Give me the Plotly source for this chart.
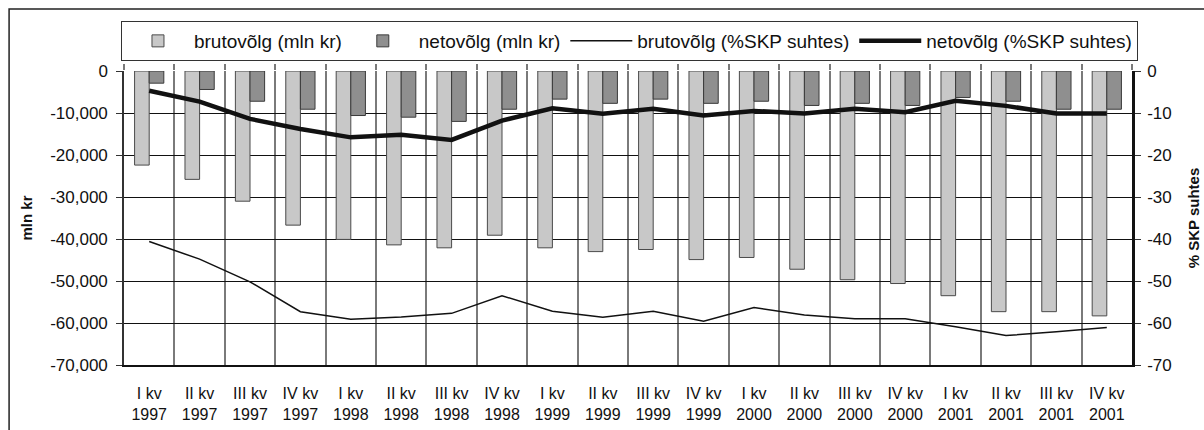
import plotly.graph_objects as go

# quarters and years for the category axis
quarters = ["I kv", "II kv", "III kv", "IV kv"]
years = ["1997", "1998", "1999", "2000", "2001"]
categories = [f"{q}<br>{y}" for y in years for q in quarters]

# gross and net debt, mln kr (bars, left axis)
gross_mln = [-22400, -25800, -31000, -36700, -40100, -41400, -42100, -39100, -42100, -43000,
             -42500, -44900, -44400, -47200, -49700, -50600, -53500, -57300, -57300, -58300]
net_mln = [-2900, -4400, -7200, -9100, -10600, -11000, -12000, -9100, -6700, -7700,
           -6700, -7700, -7200, -8200, -7700, -8200, -6300, -7200, -9100, -9100]

# gross and net debt, % of GDP (lines, right axis)
gross_pct = [-40.6, -44.8, -50.2, -57.3, -59.1, -58.6, -57.7, -53.5, -57.2, -58.6,
             -57.2, -59.6, -56.3, -58.1, -59.0, -59.0, -60.9, -63.0, -62.1, -61.1]
net_pct = [-4.7, -7.3, -11.4, -13.8, -15.8, -15.2, -16.4, -11.8, -8.9, -10.2,
           -9.0, -10.6, -9.5, -10.1, -9.0, -9.8, -7.1, -8.3, -10.1, -10.1]

# axis ticks
left_tick_vals = [0, -10000, -20000, -30000, -40000, -50000, -60000, -70000]
left_tick_text = ["0", "-10,000", "-20,000", "-30,000", "-40,000", "-50,000", "-60,000", "-70,000"]
right_tick_vals = [0, -10, -20, -30, -40, -50, -60, -70]
right_tick_text = ["0", "-10", "-20", "-30", "-40", "-50", "-60", "-70"]

FONT = "Liberation Sans, Arial, sans-serif"

fig = go.Figure()
fig.add_trace(go.Bar(x=categories, y=gross_mln, name="brutovõlg (mln kr)",
                     marker=dict(color="#C8C8C8", line=dict(color="#4A4A4A", width=1))))
fig.add_trace(go.Bar(x=categories, y=net_mln, name="netovõlg (mln kr)",
                     marker=dict(color="#8F8F8F", line=dict(color="#3A3A3A", width=1))))
fig.add_trace(go.Scatter(x=categories, y=gross_pct, name="brutovõlg (%SKP suhtes)",
                         mode="lines", line=dict(color="#111111", width=1.5),
                         xaxis="x2", yaxis="y2"))
fig.add_trace(go.Scatter(x=categories, y=net_pct, name="netovõlg (%SKP suhtes)",
                         mode="lines", line=dict(color="#111111", width=4.5),
                         xaxis="x2", yaxis="y2"))

fig.update_layout(
    width=1204, height=430,
    margin=dict(l=124, r=72, t=71, b=65),
    paper_bgcolor="white", plot_bgcolor="white",
    font=dict(family=FONT, color="#111111", size=16),
    barmode="group", bargap=0.42, bargroupgap=0,
    showlegend=True,
    legend=dict(orientation="h", x=-0.003, xanchor="left", y=1.17, yanchor="top",
                bordercolor="#333333", borderwidth=1, bgcolor="white",
                font=dict(size=19), itemwidth=62, tracegroupgap=0),
    xaxis=dict(type="category", range=[-0.5, 19.5], tickson="boundaries",
               showgrid=True, gridcolor="#7A7A7A", gridwidth=1.5,
               showline=True, linecolor="#111111", linewidth=2, automargin=False,
               ticks="", tickfont=dict(size=16), ticklabelstandoff=13, fixedrange=True),
    xaxis2=dict(type="category", range=[-0.5, 19.5], overlaying="x", side="top",
                anchor="y2", tickson="boundaries", ticks="outside", ticklen=6,
                tickcolor="#7A7A7A", tickwidth=1.5, showticklabels=False,
                showgrid=False, showline=False, automargin=False),
    yaxis=dict(range=[-70000, 0], tickvals=left_tick_vals, ticktext=left_tick_text,
               showgrid=True, gridcolor="#111111", gridwidth=1, zeroline=False,
               showline=True, linecolor="#333333", linewidth=1.5, automargin=False,
               ticks="outside", ticklen=6, tickcolor="#333333",
               tickfont=dict(size=17), ticklabelstandoff=5,
               title=dict(text="<b>mln kr</b>", font=dict(size=15), standoff=14)),
    yaxis2=dict(range=[-70, 0], overlaying="y", side="right",
                tickvals=right_tick_vals, ticktext=right_tick_text,
                showgrid=False, zeroline=False, automargin=False,
                showline=True, linecolor="#111111", linewidth=2.5,
                ticks="outside", ticklen=6, tickcolor="#333333",
                tickfont=dict(size=17), ticklabelstandoff=3,
                title=dict(text="<b>% SKP suhtes</b>", font=dict(size=15), standoff=18)),
)

# outer chart frame (runs past the right and bottom edges of the picture)
fig.add_shape(type="rect", xref="paper", yref="paper",
              x0=-0.114, x1=1.3, y0=-0.6, y1=1.211,
              line=dict(color="#222222", width=1.5), layer="above")

# drop the browser's default 8px body margin so the figure fills the window exactly
fig.write_html("out.html", config={"displayModeBar": False},
               post_script="document.body.style.margin = '0';")
